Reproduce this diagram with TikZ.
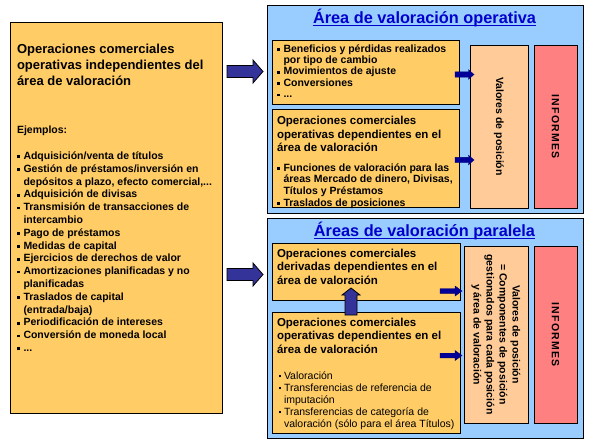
\documentclass[tikz,border=0pt]{standalone}
\usepackage{fontspec}
\setmainfont{Liberation Sans}
\newfontfamily\spacedfont[LetterSpace=12]{Liberation Sans}
\usetikzlibrary{calc}
\definecolor{boxor}{HTML}{FFCC66}
\definecolor{boxbl}{HTML}{99CCFF}
\definecolor{boxpe}{HTML}{FFCC99}
\definecolor{boxre}{HTML}{FF8080}
\definecolor{arrbig}{HTML}{333399}
\definecolor{arrsm}{HTML}{000099}
\definecolor{ttl}{HTML}{0000CC}
\lineskiplimit=-20pt
\newcommand\bul{\makebox[6.5pt][l]{\rule[0.12em]{0.27em}{0.27em}}}
\newcommand\ind{\hspace*{6.5pt}}
\newcommand\bulr{\makebox[5pt][l]{\rule[0.15em]{0.2em}{0.2em}}}
\newcommand\indr{\hspace*{5pt}}
% block arrow pointing right: style, start, end, shaft half, head half, head length
\newcommand\blockR[6]{\filldraw[#1] ($(#2)+(0,-#4)$) -- ($(#3)+(-#6,-#4)$) -- ($(#3)+(-#6,-#5)$) -- (#3) -- ($(#3)+(-#6,#5)$) -- ($(#3)+(-#6,#4)$) -- ($(#2)+(0,#4)$) -- cycle;}
% block arrow pointing up (picture coordinates, y grows downwards)
\newcommand\blockU[6]{\filldraw[#1] ($(#2)+(-#4,0)$) -- ($(#3)+(-#4,#6)$) -- ($(#3)+(-#5,#6)$) -- (#3) -- ($(#3)+(#5,#6)$) -- ($(#3)+(#4,#6)$) -- ($(#2)+(#4,0)$) -- cycle;}
\tikzset{
  box/.style={draw=black, line width=1pt, inner sep=0pt, outer sep=0pt, anchor=north west},
  txt/.style={inner sep=0pt, outer sep=0pt, anchor=base west, align=left, font=\fontsize{10.5}{12.8}\selectfont\bfseries},
  head/.style={txt, font=\fontsize{11.5}{13.7}\selectfont\bfseries},
  ttlst/.style={inner sep=0pt, anchor=base, text=ttl, font=\fontsize{16.3}{18}\selectfont\bfseries},
  vert/.style={inner sep=0pt, rotate=-90, align=center, font=\fontsize{10.5}{13}\selectfont\bfseries},
  bigarr/.style={fill=arrbig, draw=black, line width=0.8pt},
  smarr/.style={fill=arrsm, draw=arrsm!70!black, line width=0.4pt}
}
\begin{document}
\begin{tikzpicture}[x=1pt,y=-1pt]
\useasboundingbox (0,0) rectangle (593,445);
\fill[white] (0,0) rectangle (593,445);
% boxes
\node[box, fill=boxor, minimum width=212pt, minimum height=391pt] (left) at (10,22) {};
\node[box, fill=boxbl, minimum width=316pt, minimum height=208pt] (blueA) at (267,5) {};
\node[box, fill=boxor, minimum width=187pt, minimum height=64pt] (i1) at (272,40) {};
\node[box, fill=boxor, minimum width=187pt, minimum height=98pt] (i2) at (272,109) {};
\node[box, fill=boxpe, minimum width=58pt, minimum height=163pt] (valA) at (470,45) {};
\node[box, fill=boxre, minimum width=43pt, minimum height=163pt] (infA) at (534,45) {};
\node[box, fill=boxbl, minimum width=316pt, minimum height=220pt] (blueB) at (267,218) {};
\node[box, fill=boxor, minimum width=188pt, minimum height=57pt] (i3) at (272,243) {};
\node[box, fill=boxor, minimum width=188pt, minimum height=121pt] (i4) at (272,312) {};
\node[box, fill=boxpe, minimum width=64pt, minimum height=177pt] (valB) at (464,246) {};
\node[box, fill=boxre, minimum width=43pt, minimum height=177pt] (infB) at (534,246) {};
% titles
\node[ttlst] (tA) at (424.5,23) {Área de valoración operativa};
\draw[ttl, line width=1pt] ([yshift=-2.5pt]tA.base west) -- ([yshift=-2.5pt]tA.base east);
\node[ttlst] (tB) at (424.5,236) {Áreas de valoración paralela};
\draw[ttl, line width=1pt] ([yshift=-2.5pt]tB.base west) -- ([yshift=-2.5pt]tB.base east);
% left box text (anchor = baseline of last line)
\node[txt, font=\fontsize{13}{16}\selectfont\bfseries] (lt) at (17,85) {Operaciones comerciales\\operativas independientes del\\área de valoración};
\node[txt] (ej) at (17,133) {Ejemplos:};
\node[txt] (lst) at (17,351.5) {\bul Adquisición/venta de títulos\\\bul Gestión de préstamos/inversión en\\\ind depósitos a plazo, efecto comercial,...\\\bul Adquisición de divisas\\\bul Transmisión de transacciones de\\\ind intercambio\\\bul Pago de préstamos\\\bul Medidas de capital\\\bul Ejercicios de derechos de valor\\\bul Amortizaciones planificadas y no\\\ind planificadas\\\bul Traslados de capital\\\ind (entrada/baja)\\\bul Periodificación de intereses\\\bul Conversión de moneda local\\\bul ...};
% top inner texts
\node[txt, font=\fontsize{10.5}{11.4}\selectfont\bfseries] (i1t) at (277,97.6) {\bul Beneficios y pérdidas realizados\\\ind por tipo de cambio\\\bul Movimientos de ajuste\\\bul Conversiones\\\bul ...};
\node[head] (i2h) at (277,151.9) {Operaciones comerciales\\operativas dependientes en el\\área de valoración};
\node[txt, font=\fontsize{10.5}{11.7}\selectfont\bfseries] (i2t) at (277,206.1) {\bul Funciones de valoración para las\\\ind áreas Mercado de dinero, Divisas,\\\ind Títulos y Préstamos\\\bul Traslados de posiciones};
% bottom inner texts
\node[head] (i3h) at (277,284.4) {Operaciones comerciales\\derivadas dependientes en el\\área de valoración};
\node[head] (i4h) at (277,353.4) {Operaciones comerciales\\operativas dependientes en el\\área de valoración};
\node[txt, font=\fontsize{10.5}{12}\selectfont] (i4t) at (279,427) {\bulr Valoración\\\bulr Transferencias de referencia de\\\indr imputación\\\bulr Transferencias de categoría de\\\indr valoración (sólo para el área Títulos)};
% vertical texts
\node[vert] (vA) at (valA.center) {Valores de posición};
\node[vert, font=\fontsize{10.5}{13}\selectfont\bfseries\spacedfont] (fA) at (infA.center) {INFORMES};
\node[vert] (vB) at (valB.center) {Valores de posición\\= Componentes de posición\\gestionados para cada posición\\y área de valoración};
\node[vert, font=\fontsize{10.5}{13}\selectfont\bfseries\spacedfont] (fB) at (infB.center) {INFORMES};
% arrows
\coordinate (a1s) at ($(left.east |- 0,71.5)+(5,0)$);
\coordinate (a1e) at ($(blueA.west |- 0,71.5)+(-4,0)$);
\blockR{bigarr}{a1s}{a1e}{6}{11.5}{10}
\coordinate (a2s) at ($(left.east |- 0,274.5)+(5,0)$);
\coordinate (a2e) at ($(blueB.west |- 0,274.5)+(-4,0)$);
\blockR{bigarr}{a2s}{a2e}{6}{11.5}{10}
\coordinate (s1s) at (455,74.5);
\coordinate (s1e) at ($(valA.west |- s1s)+(4,0)$);
\blockR{smarr}{s1s}{s1e}{2.7}{4.8}{5.5}
\coordinate (s2s) at (455,160);
\coordinate (s2e) at ($(valA.west |- s2s)+(4,0)$);
\blockR{smarr}{s2s}{s2e}{2.7}{4.8}{5.5}
\coordinate (s3s) at (440,291);
\coordinate (s3e) at ($(valB.west |- s3s)+(-2,0)$);
\blockR{smarr}{s3s}{s3e}{2.3}{5}{7}
\coordinate (s4s) at (440,355.5);
\coordinate (s4e) at ($(valB.west |- s4s)+(-2,0)$);
\blockR{smarr}{s4s}{s4e}{2.3}{5}{7}
\coordinate (us) at (351,315);
\coordinate (ue) at (351,288);
\blockU{bigarr}{us}{ue}{6}{9}{7}
\end{tikzpicture}
\end{document}
